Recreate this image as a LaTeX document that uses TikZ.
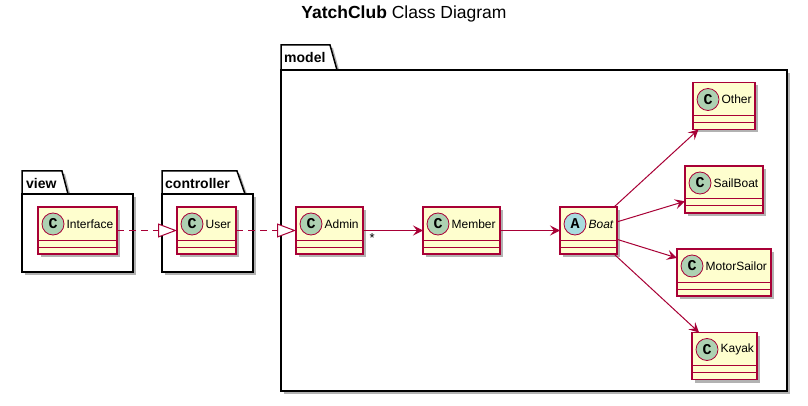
\documentclass[tikz,border=0pt]{standalone}
\usepackage{fontspec}
\setmainfont{Liberation Sans}
\newfontfamily\iconfont{Liberation Mono}
\usetikzlibrary{arrows.meta, shapes, positioning, shadows}
\definecolor{umlred}{RGB}{168,0,54}
\definecolor{umlfill}{RGB}{254,254,206}
\definecolor{umlgreen}{RGB}{173,209,178}
\definecolor{umlblue}{RGB}{169,220,223}
\tikzset{classbox/.style={rectangle, draw=umlred, fill=umlfill, line width=1.5pt, minimum height=47pt, inner sep=0pt, outer sep=0pt, drop shadow={shadow xshift=3pt, shadow yshift=-3pt, opacity=0.3, fill=black}},classline/.style={draw=umlred, line width=1pt}}
\tikzset{classicon/.style={circle, draw=umlred, line width=0.8pt, minimum size=22pt, inner sep=0pt, font=\iconfont\bfseries\fontsize{15}{15}\selectfont},classname/.style={anchor=west, inner sep=1pt, font=\fontsize{12}{14}\selectfont}}
\tikzset{pkg/.style={draw=black, fill=white, line width=1.5pt, line join=miter, drop shadow={shadow xshift=3pt, shadow yshift=-3pt, opacity=0.3, fill=black}},pkglabel/.style={anchor=west, inner sep=0pt, font=\bfseries\fontsize{14}{16}\selectfont}}

\begin{document}
\begin{tikzpicture}[
        x=1pt, y=-1pt,
        realize/.style={draw=umlred, line width=1pt, dash pattern=on 7pt off 5pt, -{Triangle[length=19pt, width=14pt, fill=white]}},
        assoc/.style={draw=umlred, line width=1pt, -{Stealth[length=10pt, width=10pt, inset=4pt]}},
    ]
        \useasboundingbox (0,0) rectangle (808,406);
        % Title
        \node[font=\fontsize{17.5}{20}\selectfont] (title) at (404,14) {\textbf{YatchClub} Class Diagram};
        % Packages
        \draw[pkg] (22,194) -- (22,171) -- (62,171) -- (68,194) -- cycle;
        \draw[pkg] (22,194) rectangle (133,272);
        \node[pkglabel] (viewlabel) at (26,183) {view};
        \draw[pkg] (162,194) -- (162,171) -- (237,171) -- (245,194) -- cycle;
        \draw[pkg] (162,194) rectangle (253,272);
        \node[pkglabel] (controllerlabel) at (165,183) {controller};
        \draw[pkg] (281,70) -- (281,45) -- (330,45) -- (337,70) -- cycle;
        \draw[pkg] (281,70) rectangle (787,391);
        \node[pkglabel] (modellabel) at (284,57) {model};
        % Classes
        \foreach \name/\x/\y/\boxw/\letter/\icol/\txt in {
            iface/77.5/230.5/79/C/umlgreen/Interface,
            user/206.5/230.5/59/C/umlgreen/User,
            admin/329.5/230.5/67/C/umlgreen/Admin,
            member/461.5/230.5/77/C/umlgreen/Member,
            boat/588.5/230.5/57/A/umlblue/{\textit{Boat}},
            other/724/106/62/C/umlgreen/Other,
            sailboat/724/189.5/78/C/umlgreen/SailBoat,
            motorsailor/724/272.5/94/C/umlgreen/MotorSailor,
            kayak/724.5/356/65/C/umlgreen/Kayak} {
            \node[classbox, minimum width=\boxw pt] (\name) at (\x,\y) {};
            \draw[classline] ([yshift=-33pt]\name.north west) -- ([yshift=-33pt]\name.north east);
            \draw[classline] ([yshift=-40pt]\name.north west) -- ([yshift=-40pt]\name.north east);
            \node[classicon, fill=\icol] (\name-icon) at ([xshift=15pt, yshift=-17pt]\name.north west) {\letter};
            \node[classname] (\name-text) at ([xshift=1pt]\name-icon.east) {\txt};
        }
        % Relations
        \draw[realize] (iface) -- (user);
        \draw[realize] (user) -- (admin);
        \draw[assoc] (admin) -- node[pos=0, anchor=north west, xshift=5pt, yshift=-2pt, inner sep=1pt, font=\fontsize{13}{14}\selectfont] {*} (member);
        \draw[assoc] (member) -- (boat);
        \foreach \t in {other, sailboat, motorsailor, kayak} {
            \draw[assoc] (boat) -- (\t);
        }
    \end{tikzpicture}
\end{document}
